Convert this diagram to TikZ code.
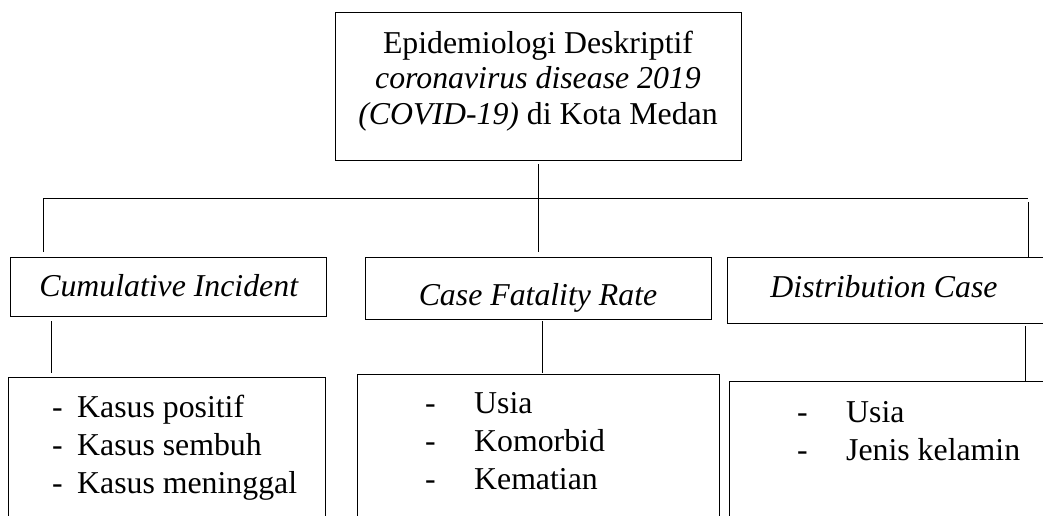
\documentclass[tikz,border=0pt]{standalone}
\usepackage{fontspec}
\setmainfont{Liberation Serif}
\begin{document}
\begin{tikzpicture}[x=1pt,y=-1pt,
  box/.style={draw=black,line width=1pt,anchor=north west,inner sep=0pt},
  conn/.style={draw=black,line width=1pt},
  txt/.style={inner sep=0pt,anchor=base,font=\fontsize{31.8}{35.5}\selectfont},
  lst/.style={inner sep=0pt,anchor=base west,font=\fontsize{31.8}{38}\selectfont}]
\clip (0,0) rectangle (1043,515);
% boxes
\node[box,minimum width=406pt,minimum height=148pt] (top) at (335,12) {};
\node[box,minimum width=316pt,minimum height=59pt] (ci) at (10,257) {};
\node[box,minimum width=346pt,minimum height=62pt] (cfr) at (365,257) {};
\node[box,minimum width=325pt,minimum height=66pt] (dc) at (727,257) {};
\node[box,minimum width=317pt,minimum height=160pt] (cibox) at (8,377) {};
\node[box,minimum width=362pt,minimum height=160pt] (cfrbox) at (357,374) {};
\node[box,minimum width=325pt,minimum height=160pt] (dcbox) at (729,381) {};
% texts
\node[txt] (toptext) at (538,53) {\begin{tabular}[t]{@{}c@{}}Epidemiologi Deskriptif\\ \textit{coronavirus disease 2019}\\ \textit{(COVID-19)} di Kota Medan\end{tabular}};
\node[txt] (citext) at (169,296) {\textit{Cumulative Incident}};
\node[txt] (cfrtext) at (538,305) {\textit{Case Fatality Rate}};
\node[txt] (dctext) at (884,297) {\textit{Distribution Case}};
\node[lst] (cilist) at (52,417) {\begin{tabular}[t]{@{}l@{}}\makebox[25pt][l]{-}Kasus positif\\ \makebox[25pt][l]{-}Kasus sembuh\\ \makebox[25pt][l]{-}Kasus meninggal\end{tabular}};
\node[lst] (cfrlist) at (425,413) {\begin{tabular}[t]{@{}l@{}}\makebox[49pt][l]{-}Usia\\ \makebox[49pt][l]{-}Komorbid\\ \makebox[49pt][l]{-}Kematian\end{tabular}};
\node[lst] (dclist) at (797,422) {\begin{tabular}[t]{@{}l@{}}\makebox[49pt][l]{-}Usia\\ \makebox[49pt][l]{-}Jenis kelamin\end{tabular}};
% connectors
\coordinate (busL) at (43,198);
\coordinate (busR) at (1028,198);
\coordinate (ciL) at (51,0);
\coordinate (cfrL) at (542,0);
\coordinate (dcL) at (1025,0);
\draw[conn] (busL) -- (busR);
\draw[conn,shorten <=3pt,shorten >=5pt] (top.south) -- (cfr.north);
\draw[conn,shorten >=5pt] (busL) -- (busL |- ci.north);
\draw[conn,shorten <=4pt] (busR) -- (busR |- dc.north);
\draw[conn,shorten <=4pt,shorten >=4pt] (ci.south -| ciL) -- (cibox.north -| ciL);
\draw[conn,shorten <=1pt,shorten >=1pt] (cfr.south -| cfrL) -- (cfrbox.north -| cfrL);
\draw[conn,shorten <=2pt] (dc.south -| dcL) -- (dcbox.north -| dcL);
\end{tikzpicture}
\end{document}
